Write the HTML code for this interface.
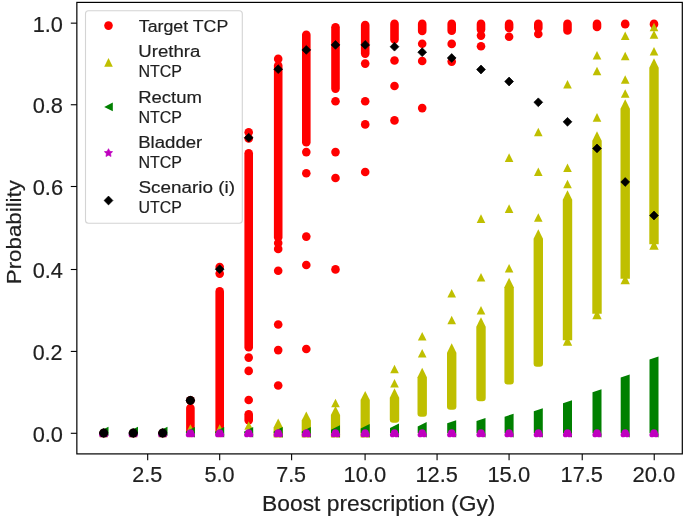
<!DOCTYPE html>
<html><head><meta charset="utf-8"><style>
html,body{margin:0;padding:0;background:#fff;width:685px;height:519px;overflow:hidden}
svg{display:block;will-change:transform}
text{font-family:"Liberation Sans",sans-serif;fill:#202020;stroke:#202020;stroke-width:0.18px}
</style></head><body>
<svg width="685" height="519" viewBox="0 0 685 519">
<rect x="0" y="0" width="685" height="519" fill="#fff"/>
<g>
<circle cx="103.70" cy="433.00" r="4.30" fill="#ff0000"/>
<circle cx="133.20" cy="433.00" r="4.30" fill="#ff0000"/>
<circle cx="162.70" cy="433.00" r="4.30" fill="#ff0000"/>
<line x1="190.40" y1="408.00" x2="190.40" y2="433.00" stroke="#ff0000" stroke-width="8.60" stroke-linecap="round"/>
<circle cx="190.40" cy="400.40" r="4.30" fill="#ff0000"/>
<line x1="219.70" y1="291.40" x2="219.70" y2="433.00" stroke="#ff0000" stroke-width="8.60" stroke-linecap="round"/>
<circle cx="219.70" cy="267.00" r="4.30" fill="#ff0000"/>
<circle cx="219.70" cy="273.60" r="4.30" fill="#ff0000"/>
<line x1="248.70" y1="153.20" x2="248.70" y2="347.20" stroke="#ff0000" stroke-width="8.60" stroke-linecap="round"/>
<line x1="248.70" y1="414.30" x2="248.70" y2="420.30" stroke="#ff0000" stroke-width="8.60" stroke-linecap="round"/>
<circle cx="248.70" cy="132.20" r="4.30" fill="#ff0000"/>
<circle cx="248.70" cy="138.50" r="4.30" fill="#ff0000"/>
<circle cx="248.70" cy="357.60" r="4.30" fill="#ff0000"/>
<circle cx="248.70" cy="370.90" r="4.30" fill="#ff0000"/>
<circle cx="248.70" cy="400.00" r="4.30" fill="#ff0000"/>
<line x1="278.20" y1="65.50" x2="278.20" y2="237.30" stroke="#ff0000" stroke-width="8.60" stroke-linecap="round"/>
<circle cx="278.20" cy="58.90" r="4.30" fill="#ff0000"/>
<circle cx="278.20" cy="243.10" r="4.30" fill="#ff0000"/>
<circle cx="278.20" cy="248.90" r="4.30" fill="#ff0000"/>
<circle cx="278.20" cy="270.80" r="4.30" fill="#ff0000"/>
<circle cx="278.20" cy="324.50" r="4.30" fill="#ff0000"/>
<circle cx="278.20" cy="350.10" r="4.30" fill="#ff0000"/>
<circle cx="278.20" cy="385.50" r="4.30" fill="#ff0000"/>
<line x1="306.30" y1="34.80" x2="306.30" y2="142.20" stroke="#ff0000" stroke-width="8.60" stroke-linecap="round"/>
<circle cx="306.30" cy="152.10" r="4.30" fill="#ff0000"/>
<circle cx="306.30" cy="173.20" r="4.30" fill="#ff0000"/>
<circle cx="306.30" cy="236.60" r="4.30" fill="#ff0000"/>
<circle cx="306.30" cy="265.00" r="4.30" fill="#ff0000"/>
<circle cx="306.30" cy="349.00" r="4.30" fill="#ff0000"/>
<line x1="335.50" y1="27.20" x2="335.50" y2="88.60" stroke="#ff0000" stroke-width="8.60" stroke-linecap="round"/>
<circle cx="335.50" cy="101.30" r="4.30" fill="#ff0000"/>
<circle cx="335.50" cy="152.10" r="4.30" fill="#ff0000"/>
<circle cx="335.50" cy="178.00" r="4.30" fill="#ff0000"/>
<circle cx="335.50" cy="269.40" r="4.30" fill="#ff0000"/>
<line x1="365.20" y1="25.00" x2="365.20" y2="53.60" stroke="#ff0000" stroke-width="8.60" stroke-linecap="round"/>
<circle cx="365.20" cy="63.60" r="4.30" fill="#ff0000"/>
<circle cx="365.20" cy="101.30" r="4.30" fill="#ff0000"/>
<circle cx="365.20" cy="124.40" r="4.30" fill="#ff0000"/>
<circle cx="365.20" cy="172.00" r="4.30" fill="#ff0000"/>
<line x1="394.50" y1="23.90" x2="394.50" y2="39.50" stroke="#ff0000" stroke-width="8.60" stroke-linecap="round"/>
<circle cx="394.50" cy="60.50" r="4.30" fill="#ff0000"/>
<circle cx="394.50" cy="86.00" r="4.30" fill="#ff0000"/>
<circle cx="394.50" cy="120.40" r="4.30" fill="#ff0000"/>
<line x1="422.20" y1="23.90" x2="422.20" y2="31.00" stroke="#ff0000" stroke-width="8.60" stroke-linecap="round"/>
<circle cx="422.20" cy="43.80" r="4.30" fill="#ff0000"/>
<circle cx="422.20" cy="61.00" r="4.30" fill="#ff0000"/>
<circle cx="422.20" cy="108.10" r="4.30" fill="#ff0000"/>
<line x1="451.70" y1="23.90" x2="451.70" y2="30.70" stroke="#ff0000" stroke-width="8.60" stroke-linecap="round"/>
<circle cx="451.70" cy="43.90" r="4.30" fill="#ff0000"/>
<circle cx="451.70" cy="61.60" r="4.30" fill="#ff0000"/>
<line x1="481.00" y1="23.90" x2="481.00" y2="29.50" stroke="#ff0000" stroke-width="8.60" stroke-linecap="round"/>
<circle cx="481.00" cy="35.60" r="4.30" fill="#ff0000"/>
<circle cx="481.00" cy="46.30" r="4.30" fill="#ff0000"/>
<line x1="509.10" y1="23.90" x2="509.10" y2="28.00" stroke="#ff0000" stroke-width="8.60" stroke-linecap="round"/>
<circle cx="509.10" cy="36.70" r="4.30" fill="#ff0000"/>
<line x1="538.30" y1="23.90" x2="538.30" y2="28.00" stroke="#ff0000" stroke-width="8.60" stroke-linecap="round"/>
<circle cx="538.30" cy="34.00" r="4.30" fill="#ff0000"/>
<line x1="567.50" y1="23.90" x2="567.50" y2="30.50" stroke="#ff0000" stroke-width="8.60" stroke-linecap="round"/>
<line x1="597.00" y1="23.90" x2="597.00" y2="27.00" stroke="#ff0000" stroke-width="8.60" stroke-linecap="round"/>
<line x1="625.20" y1="23.90" x2="625.20" y2="24.20" stroke="#ff0000" stroke-width="8.60" stroke-linecap="round"/>
<line x1="654.00" y1="23.90" x2="654.00" y2="24.20" stroke="#ff0000" stroke-width="8.60" stroke-linecap="round"/>
<path d="M103.70 428.70L99.40 437.30L108.00 437.30Z" fill="#bfbf00"/>
<path d="M133.20 428.70L128.90 437.30L137.50 437.30Z" fill="#bfbf00"/>
<path d="M162.70 428.70L158.40 437.30L167.00 437.30Z" fill="#bfbf00"/>
<path d="M190.40 424.20L186.10 432.80L194.70 432.80Z" fill="#bfbf00"/>
<path d="M219.70 424.20L215.40 432.80L224.00 432.80Z" fill="#bfbf00"/>
<path d="M248.70 421.20L244.40 429.80L253.00 429.80Z" fill="#bfbf00"/>
<path d="M278.20 418.40L273.60 427.60L273.60 437.60L282.80 437.60L282.80 427.60Z" fill="#bfbf00"/>
<path d="M306.30 411.40L301.70 420.60L301.70 437.60L310.90 437.60L310.90 420.60Z" fill="#bfbf00"/>
<path d="M335.50 405.90L330.90 415.10L330.90 437.60L340.10 437.60L340.10 415.10Z" fill="#bfbf00"/>
<path d="M335.50 398.70L331.20 407.30L339.80 407.30Z" fill="#bfbf00"/>
<path d="M365.20 390.90L360.60 400.10L360.60 437.60L369.80 437.60L369.80 400.10Z" fill="#bfbf00"/>
<path d="M394.50 388.30L389.80 397.70L389.80 419.50Q389.80 422.70 393.00 422.70L396.00 422.70Q399.20 422.70 399.20 419.50L399.20 397.70Z" fill="#bfbf00"/>
<path d="M394.50 364.70L390.20 373.30L398.80 373.30Z" fill="#bfbf00"/>
<path d="M394.50 379.00L390.20 387.60L398.80 387.60Z" fill="#bfbf00"/>
<path d="M422.20 367.80L417.50 377.20L417.50 413.50Q417.50 416.70 420.70 416.70L423.70 416.70Q426.90 416.70 426.90 413.50L426.90 377.20Z" fill="#bfbf00"/>
<path d="M422.20 332.00L417.90 340.60L426.50 340.60Z" fill="#bfbf00"/>
<path d="M422.20 348.90L417.90 357.50L426.50 357.50Z" fill="#bfbf00"/>
<path d="M451.70 343.30L447.00 352.70L447.00 406.50Q447.00 409.70 450.20 409.70L453.20 409.70Q456.40 409.70 456.40 406.50L456.40 352.70Z" fill="#bfbf00"/>
<path d="M451.70 289.00L447.40 297.60L456.00 297.60Z" fill="#bfbf00"/>
<path d="M451.70 315.70L447.40 324.30L456.00 324.30Z" fill="#bfbf00"/>
<path d="M481.00 317.30L476.30 326.70L476.30 398.00Q476.30 401.20 479.50 401.20L482.50 401.20Q485.70 401.20 485.70 398.00L485.70 326.70Z" fill="#bfbf00"/>
<path d="M481.00 214.30L476.70 222.90L485.30 222.90Z" fill="#bfbf00"/>
<path d="M481.00 272.90L476.70 281.50L485.30 281.50Z" fill="#bfbf00"/>
<path d="M481.00 305.90L476.70 314.50L485.30 314.50Z" fill="#bfbf00"/>
<path d="M509.10 277.80L504.40 287.20L504.40 381.30Q504.40 384.50 507.60 384.50L510.60 384.50Q513.80 384.50 513.80 381.30L513.80 287.20Z" fill="#bfbf00"/>
<path d="M509.10 153.30L504.80 161.90L513.40 161.90Z" fill="#bfbf00"/>
<path d="M509.10 204.30L504.80 212.90L513.40 212.90Z" fill="#bfbf00"/>
<path d="M509.10 264.00L504.80 272.60L513.40 272.60Z" fill="#bfbf00"/>
<path d="M538.30 229.30L533.60 238.70L533.60 363.50Q533.60 366.70 536.80 366.70L539.80 366.70Q543.00 366.70 543.00 363.50L543.00 238.70Z" fill="#bfbf00"/>
<path d="M538.30 127.70L534.00 136.30L542.60 136.30Z" fill="#bfbf00"/>
<path d="M538.30 167.50L534.00 176.10L542.60 176.10Z" fill="#bfbf00"/>
<path d="M538.30 213.20L534.00 221.80L542.60 221.80Z" fill="#bfbf00"/>
<path d="M567.50 190.30L562.80 199.70L562.80 340.20L572.20 340.20L572.20 199.70Z" fill="#bfbf00"/>
<path d="M567.50 336.30L562.80 345.70L572.20 345.70Z" fill="#bfbf00"/>
<path d="M567.50 79.90L563.20 88.50L571.80 88.50Z" fill="#bfbf00"/>
<path d="M567.50 163.40L563.20 172.00L571.80 172.00Z" fill="#bfbf00"/>
<path d="M567.50 179.70L563.20 188.30L571.80 188.30Z" fill="#bfbf00"/>
<path d="M597.00 131.30L592.30 140.70L592.30 313.70L601.70 313.70L601.70 140.70Z" fill="#bfbf00"/>
<path d="M597.00 309.80L592.30 319.20L601.70 319.20Z" fill="#bfbf00"/>
<path d="M597.00 51.00L592.70 59.60L601.30 59.60Z" fill="#bfbf00"/>
<path d="M597.00 66.70L592.70 75.30L601.30 75.30Z" fill="#bfbf00"/>
<path d="M597.00 113.10L592.70 121.70L601.30 121.70Z" fill="#bfbf00"/>
<path d="M625.20 99.30L620.50 108.70L620.50 278.70L629.90 278.70L629.90 108.70Z" fill="#bfbf00"/>
<path d="M625.20 274.80L620.50 284.20L629.90 284.20Z" fill="#bfbf00"/>
<path d="M625.20 31.50L620.90 40.10L629.50 40.10Z" fill="#bfbf00"/>
<path d="M625.20 51.70L620.90 60.30L629.50 60.30Z" fill="#bfbf00"/>
<path d="M625.20 75.20L620.90 83.80L629.50 83.80Z" fill="#bfbf00"/>
<path d="M625.20 89.20L620.90 97.80L629.50 97.80Z" fill="#bfbf00"/>
<path d="M654.00 58.30L649.30 67.70L649.30 244.20L658.70 244.20L658.70 67.70Z" fill="#bfbf00"/>
<path d="M654.00 240.30L649.30 249.70L658.70 249.70Z" fill="#bfbf00"/>
<path d="M654.00 22.70L649.70 31.30L658.30 31.30Z" fill="#bfbf00"/>
<path d="M654.00 30.20L649.70 38.80L658.30 38.80Z" fill="#bfbf00"/>
<path d="M654.00 47.00L649.70 55.60L658.30 55.60Z" fill="#bfbf00"/>
<path d="M99.50 431.20L108.50 426.70L108.50 435.70Z" fill="#008000"/>
<path d="M129.00 431.20L138.00 426.70L138.00 435.70Z" fill="#008000"/>
<path d="M158.50 431.20L167.50 426.70L167.50 435.70Z" fill="#008000"/>
<path d="M185.90 431.50L194.90 427.00L194.90 437.50L185.90 433.00Z" fill="#008000"/>
<path d="M215.20 431.50L224.20 427.00L224.20 437.50L215.20 433.00Z" fill="#008000"/>
<path d="M244.20 431.50L253.20 427.00L253.20 437.50L244.20 433.00Z" fill="#008000"/>
<path d="M273.70 431.50L282.70 427.00L282.70 437.50L273.70 433.00Z" fill="#008000"/>
<path d="M301.80 431.50L310.80 427.00L310.80 437.50L301.80 433.00Z" fill="#008000"/>
<path d="M331.00 429.80L340.00 425.30L340.00 437.50L331.00 433.00Z" fill="#008000"/>
<path d="M360.70 428.60L369.70 424.10L369.70 437.50L360.70 433.00Z" fill="#008000"/>
<path d="M390.00 428.10L399.00 423.60L399.00 437.50L390.00 433.00Z" fill="#008000"/>
<path d="M417.70 426.50L426.70 422.00L426.70 437.50L417.70 433.00Z" fill="#008000"/>
<path d="M447.20 423.30L456.20 420.30L456.20 437.50L447.20 433.00Z" fill="#008000"/>
<path d="M476.50 421.10L485.50 418.10L485.50 437.50L476.50 433.00Z" fill="#008000"/>
<path d="M504.60 416.70L513.60 413.70L513.60 437.50L504.60 433.00Z" fill="#008000"/>
<path d="M533.80 411.30L542.80 408.30L542.80 437.50L533.80 433.00Z" fill="#008000"/>
<path d="M563.00 403.20L572.00 400.20L572.00 437.50L563.00 433.00Z" fill="#008000"/>
<path d="M592.50 392.30L601.50 389.30L601.50 437.50L592.50 433.00Z" fill="#008000"/>
<path d="M620.70 377.60L629.70 374.60L629.70 437.50L620.70 433.00Z" fill="#008000"/>
<path d="M649.50 359.50L658.50 356.50L658.50 437.50L649.50 433.00Z" fill="#008000"/>
<g fill="#bf00bf"><circle cx="103.70" cy="432.85" r="3.6"/><circle cx="101.70" cy="434.75" r="2.6"/><circle cx="105.70" cy="434.75" r="2.6"/></g>
<g fill="#bf00bf"><circle cx="133.20" cy="432.85" r="3.6"/><circle cx="131.20" cy="434.75" r="2.6"/><circle cx="135.20" cy="434.75" r="2.6"/></g>
<g fill="#bf00bf"><circle cx="162.70" cy="432.85" r="3.6"/><circle cx="160.70" cy="434.75" r="2.6"/><circle cx="164.70" cy="434.75" r="2.6"/></g>
<g fill="#bf00bf"><circle cx="190.40" cy="432.85" r="3.6"/><circle cx="188.40" cy="434.75" r="2.6"/><circle cx="192.40" cy="434.75" r="2.6"/></g>
<g fill="#bf00bf"><circle cx="219.70" cy="432.85" r="3.6"/><circle cx="217.70" cy="434.75" r="2.6"/><circle cx="221.70" cy="434.75" r="2.6"/></g>
<g fill="#bf00bf"><circle cx="248.70" cy="432.85" r="3.6"/><circle cx="246.70" cy="434.75" r="2.6"/><circle cx="250.70" cy="434.75" r="2.6"/></g>
<g fill="#bf00bf"><circle cx="278.20" cy="432.85" r="3.6"/><circle cx="276.20" cy="434.75" r="2.6"/><circle cx="280.20" cy="434.75" r="2.6"/></g>
<g fill="#bf00bf"><circle cx="306.30" cy="432.85" r="3.6"/><circle cx="304.30" cy="434.75" r="2.6"/><circle cx="308.30" cy="434.75" r="2.6"/></g>
<g fill="#bf00bf"><circle cx="335.50" cy="432.85" r="3.6"/><circle cx="333.50" cy="434.75" r="2.6"/><circle cx="337.50" cy="434.75" r="2.6"/></g>
<g fill="#bf00bf"><circle cx="365.20" cy="432.85" r="3.6"/><circle cx="363.20" cy="434.75" r="2.6"/><circle cx="367.20" cy="434.75" r="2.6"/></g>
<g fill="#bf00bf"><circle cx="394.50" cy="432.85" r="3.6"/><circle cx="392.50" cy="434.75" r="2.6"/><circle cx="396.50" cy="434.75" r="2.6"/></g>
<g fill="#bf00bf"><circle cx="422.20" cy="432.85" r="3.6"/><circle cx="420.20" cy="434.75" r="2.6"/><circle cx="424.20" cy="434.75" r="2.6"/></g>
<g fill="#bf00bf"><circle cx="451.70" cy="432.85" r="3.6"/><circle cx="449.70" cy="434.75" r="2.6"/><circle cx="453.70" cy="434.75" r="2.6"/></g>
<g fill="#bf00bf"><circle cx="481.00" cy="432.85" r="3.6"/><circle cx="479.00" cy="434.75" r="2.6"/><circle cx="483.00" cy="434.75" r="2.6"/></g>
<g fill="#bf00bf"><circle cx="509.10" cy="432.85" r="3.6"/><circle cx="507.10" cy="434.75" r="2.6"/><circle cx="511.10" cy="434.75" r="2.6"/></g>
<g fill="#bf00bf"><circle cx="538.30" cy="432.85" r="3.6"/><circle cx="536.30" cy="434.75" r="2.6"/><circle cx="540.30" cy="434.75" r="2.6"/></g>
<g fill="#bf00bf"><circle cx="567.50" cy="432.85" r="3.6"/><circle cx="565.50" cy="434.75" r="2.6"/><circle cx="569.50" cy="434.75" r="2.6"/></g>
<g fill="#bf00bf"><circle cx="597.00" cy="432.85" r="3.6"/><circle cx="595.00" cy="434.75" r="2.6"/><circle cx="599.00" cy="434.75" r="2.6"/></g>
<g fill="#bf00bf"><circle cx="625.20" cy="432.85" r="3.6"/><circle cx="623.20" cy="434.75" r="2.6"/><circle cx="627.20" cy="434.75" r="2.6"/></g>
<g fill="#bf00bf"><circle cx="654.00" cy="432.85" r="3.6"/><circle cx="652.00" cy="434.75" r="2.6"/><circle cx="656.00" cy="434.75" r="2.6"/></g>
<circle cx="103.70" cy="433.00" r="4.50" fill="#080000"/>
<circle cx="133.20" cy="433.00" r="4.50" fill="#080000"/>
<circle cx="162.70" cy="433.00" r="4.50" fill="#080000"/>
<circle cx="190.40" cy="400.40" r="4.50" fill="#080000"/>
<path d="M103.70 428.60L108.10 433.00L103.70 437.40L99.30 433.00Z" fill="#000000" stroke="#000000" stroke-width="0.7" stroke-linejoin="round"/>
<path d="M133.20 428.60L137.60 433.00L133.20 437.40L128.80 433.00Z" fill="#000000" stroke="#000000" stroke-width="0.7" stroke-linejoin="round"/>
<path d="M162.70 428.60L167.10 433.00L162.70 437.40L158.30 433.00Z" fill="#000000" stroke="#000000" stroke-width="0.7" stroke-linejoin="round"/>
<path d="M190.40 396.00L194.80 400.40L190.40 404.80L186.00 400.40Z" fill="#000000" stroke="#000000" stroke-width="0.7" stroke-linejoin="round"/>
<path d="M219.70 264.80L224.10 269.20L219.70 273.60L215.30 269.20Z" fill="#000000" stroke="#000000" stroke-width="0.7" stroke-linejoin="round"/>
<path d="M248.70 133.30L253.10 137.70L248.70 142.10L244.30 137.70Z" fill="#000000" stroke="#000000" stroke-width="0.7" stroke-linejoin="round"/>
<path d="M278.20 64.80L282.60 69.20L278.20 73.60L273.80 69.20Z" fill="#000000" stroke="#000000" stroke-width="0.7" stroke-linejoin="round"/>
<path d="M306.30 45.50L310.70 49.90L306.30 54.30L301.90 49.90Z" fill="#000000" stroke="#000000" stroke-width="0.7" stroke-linejoin="round"/>
<path d="M335.50 40.50L339.90 44.90L335.50 49.30L331.10 44.90Z" fill="#000000" stroke="#000000" stroke-width="0.7" stroke-linejoin="round"/>
<path d="M365.20 40.50L369.60 44.90L365.20 49.30L360.80 44.90Z" fill="#000000" stroke="#000000" stroke-width="0.7" stroke-linejoin="round"/>
<path d="M394.50 42.30L398.90 46.70L394.50 51.10L390.10 46.70Z" fill="#000000" stroke="#000000" stroke-width="0.7" stroke-linejoin="round"/>
<path d="M422.20 47.80L426.60 52.20L422.20 56.60L417.80 52.20Z" fill="#000000" stroke="#000000" stroke-width="0.7" stroke-linejoin="round"/>
<path d="M451.70 53.60L456.10 58.00L451.70 62.40L447.30 58.00Z" fill="#000000" stroke="#000000" stroke-width="0.7" stroke-linejoin="round"/>
<path d="M481.00 65.10L485.40 69.50L481.00 73.90L476.60 69.50Z" fill="#000000" stroke="#000000" stroke-width="0.7" stroke-linejoin="round"/>
<path d="M509.10 77.10L513.50 81.50L509.10 85.90L504.70 81.50Z" fill="#000000" stroke="#000000" stroke-width="0.7" stroke-linejoin="round"/>
<path d="M538.30 97.90L542.70 102.30L538.30 106.70L533.90 102.30Z" fill="#000000" stroke="#000000" stroke-width="0.7" stroke-linejoin="round"/>
<path d="M567.50 117.40L571.90 121.80L567.50 126.20L563.10 121.80Z" fill="#000000" stroke="#000000" stroke-width="0.7" stroke-linejoin="round"/>
<path d="M597.00 144.00L601.40 148.40L597.00 152.80L592.60 148.40Z" fill="#000000" stroke="#000000" stroke-width="0.7" stroke-linejoin="round"/>
<path d="M625.20 177.60L629.60 182.00L625.20 186.40L620.80 182.00Z" fill="#000000" stroke="#000000" stroke-width="0.7" stroke-linejoin="round"/>
<path d="M654.00 211.10L658.40 215.50L654.00 219.90L649.60 215.50Z" fill="#000000" stroke="#000000" stroke-width="0.7" stroke-linejoin="round"/>
</g>
<rect x="76.85" y="2.40" width="605.45" height="451.50" fill="none" stroke="#000" stroke-width="1.2"/>
<line x1="70.8" y1="433.29" x2="76.85" y2="433.29" stroke="#000" stroke-width="1.1"/><line x1="70.8" y1="351.42" x2="76.85" y2="351.42" stroke="#000" stroke-width="1.1"/><line x1="70.8" y1="269.50" x2="76.85" y2="269.50" stroke="#000" stroke-width="1.1"/><line x1="70.8" y1="186.50" x2="76.85" y2="186.50" stroke="#000" stroke-width="1.1"/><line x1="70.8" y1="104.75" x2="76.85" y2="104.75" stroke="#000" stroke-width="1.1"/><line x1="70.8" y1="23.15" x2="76.85" y2="23.15" stroke="#000" stroke-width="1.1"/><line x1="147.69" y1="453.90" x2="147.69" y2="460.20" stroke="#000" stroke-width="1.1"/><line x1="219.69" y1="453.90" x2="219.69" y2="460.20" stroke="#000" stroke-width="1.1"/><line x1="291.61" y1="453.90" x2="291.61" y2="460.20" stroke="#000" stroke-width="1.1"/><line x1="365.09" y1="453.90" x2="365.09" y2="460.20" stroke="#000" stroke-width="1.1"/><line x1="437.07" y1="453.90" x2="437.07" y2="460.20" stroke="#000" stroke-width="1.1"/><line x1="509.07" y1="453.90" x2="509.07" y2="460.20" stroke="#000" stroke-width="1.1"/><line x1="582.23" y1="453.90" x2="582.23" y2="460.20" stroke="#000" stroke-width="1.1"/><line x1="654.23" y1="453.90" x2="654.23" y2="460.20" stroke="#000" stroke-width="1.1"/>
<rect x="85.5" y="10.7" width="156.8" height="212.5" rx="3" ry="3" fill="#fff" fill-opacity="0.8" stroke="#d4d4d4" stroke-width="1.1"/>
<circle cx="108.50" cy="25.60" r="4.30" fill="#ff0000"/>
<path d="M108.50 58.10L104.20 66.70L112.80 66.70Z" fill="#bfbf00"/>
<path d="M104.20 106.90L112.80 102.60L112.80 111.20Z" fill="#008000"/>
<path d="M108.50 148.70L107.24 151.26L104.41 151.67L106.46 153.66L105.97 156.48L108.50 155.15L111.03 156.48L110.54 153.66L112.59 151.67L109.76 151.26Z" fill="#bf00bf" stroke="#bf00bf" stroke-width="0.7" stroke-linejoin="round"/>
<path d="M108.50 196.10L112.90 200.50L108.50 204.90L104.10 200.50Z" fill="#000000" stroke="#000000" stroke-width="0.7" stroke-linejoin="round"/>
<text x="32.67" y="441.69" font-size="22.3" textLength="30.28" lengthAdjust="spacingAndGlyphs">0.0</text>
<text x="32.68" y="359.82" font-size="22.3" textLength="29.83" lengthAdjust="spacingAndGlyphs">0.2</text>
<text x="32.67" y="277.90" font-size="22.3" textLength="30.27" lengthAdjust="spacingAndGlyphs">0.4</text>
<text x="32.67" y="194.90" font-size="22.3" textLength="30.46" lengthAdjust="spacingAndGlyphs">0.6</text>
<text x="32.67" y="113.15" font-size="22.3" textLength="30.34" lengthAdjust="spacingAndGlyphs">0.8</text>
<text x="32.73" y="31.55" font-size="22.3" textLength="30.22" lengthAdjust="spacingAndGlyphs">1.0</text>
<text x="132.15" y="481.90" font-size="22.3" textLength="30.01" lengthAdjust="spacingAndGlyphs">2.5</text>
<text x="204.45" y="481.90" font-size="22.3" textLength="30.07" lengthAdjust="spacingAndGlyphs">5.0</text>
<text x="276.23" y="481.90" font-size="22.3" textLength="29.85" lengthAdjust="spacingAndGlyphs">7.5</text>
<text x="343.45" y="481.90" font-size="22.3" textLength="42.71" lengthAdjust="spacingAndGlyphs">10.0</text>
<text x="415.45" y="481.90" font-size="22.3" textLength="42.35" lengthAdjust="spacingAndGlyphs">12.5</text>
<text x="487.43" y="481.90" font-size="22.3" textLength="42.71" lengthAdjust="spacingAndGlyphs">15.0</text>
<text x="560.61" y="481.90" font-size="22.3" textLength="42.35" lengthAdjust="spacingAndGlyphs">17.5</text>
<text x="632.44" y="481.90" font-size="22.3" textLength="42.87" lengthAdjust="spacingAndGlyphs">20.0</text>
<text x="262.13" y="511.10" font-size="21.6" textLength="233.29" lengthAdjust="spacingAndGlyphs">Boost prescription (Gy)</text>
<g transform="translate(20.9,282.4) rotate(-90)"><text x="-1.83" y="0.00" font-size="21.0" textLength="104.17" lengthAdjust="spacingAndGlyphs">Probability</text></g>
<text x="138.81" y="32.00" font-size="17.3" textLength="89.50" lengthAdjust="spacingAndGlyphs">Target TCP</text>
<text x="138.26" y="56.80" font-size="17.3" textLength="62.04" lengthAdjust="spacingAndGlyphs">Urethra</text>
<text x="138.38" y="77.20" font-size="17.3" textLength="43.66" lengthAdjust="spacingAndGlyphs">NTCP</text>
<text x="138.18" y="102.50" font-size="17.3" textLength="63.74" lengthAdjust="spacingAndGlyphs">Rectum</text>
<text x="138.38" y="122.70" font-size="17.3" textLength="43.66" lengthAdjust="spacingAndGlyphs">NTCP</text>
<text x="138.17" y="147.80" font-size="17.3" textLength="64.14" lengthAdjust="spacingAndGlyphs">Bladder</text>
<text x="138.38" y="167.50" font-size="17.3" textLength="43.66" lengthAdjust="spacingAndGlyphs">NTCP</text>
<text x="138.54" y="192.80" font-size="17.3" textLength="96.43" lengthAdjust="spacingAndGlyphs">Scenario (i)</text>
<text x="138.47" y="212.50" font-size="17.3" textLength="43.37" lengthAdjust="spacingAndGlyphs">UTCP</text>
</svg>
</body></html>
